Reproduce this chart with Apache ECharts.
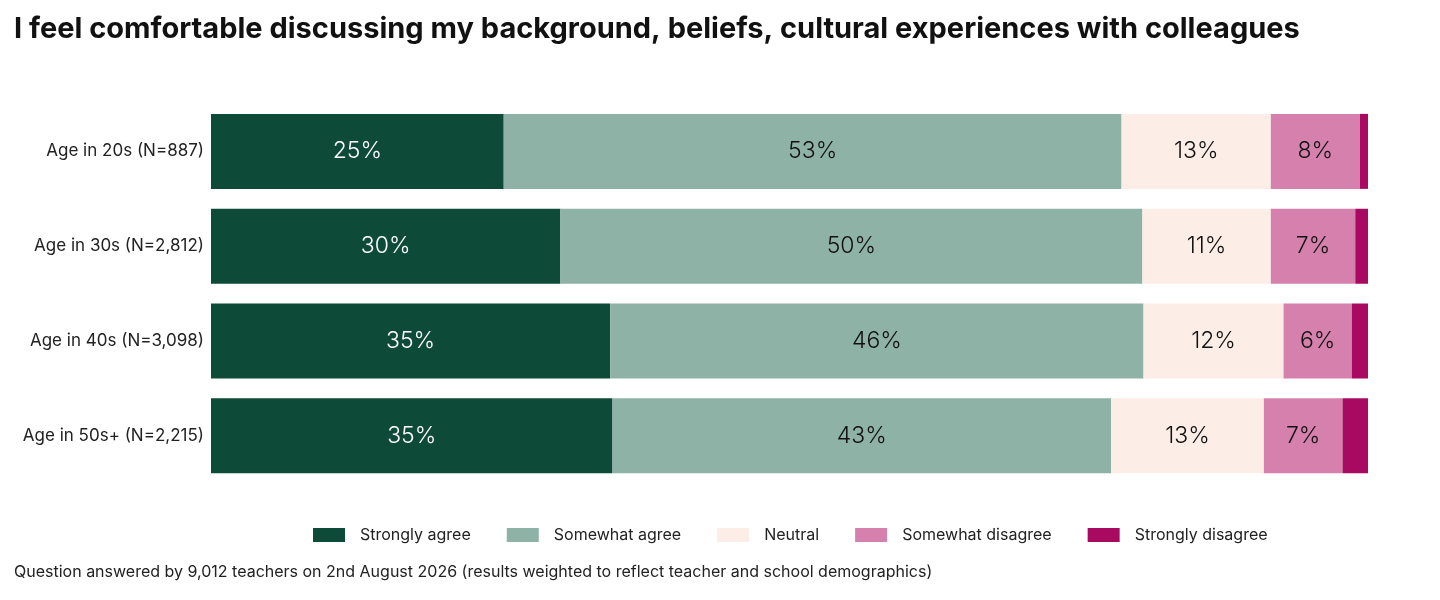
<!DOCTYPE html>
<html>
<head>
<meta charset="utf-8">
<script src="https://cdn.jsdelivr.net/npm/echarts@6/dist/echarts.min.js"></script>
<style>
  html, body { margin: 0; padding: 0; background: #ffffff; }
  #chart { width: 1440px; height: 600px; }
</style>
</head>
<body>
<div id="chart"></div>
<script>
// age groups, top to bottom
var groups = ['Age in 20s (N=887)', 'Age in 30s (N=2,812)', 'Age in 40s (N=3,098)', 'Age in 50s+ (N=2,215)']

// answer shares per group (%)
var stronglyAgree = [25.3, 30.2, 34.5, 34.7]
var somewhatAgree = [53.4, 50.3, 46.1, 43.1]
var neutral = [12.9, 11.1, 12.1, 13.2]
var somewhatDisagree = [7.7, 7.3, 5.9, 6.8]
var stronglyDisagree = [0.7, 1.2, 1.5, 2.2]

var answers = ['Strongly agree', 'Somewhat agree', 'Neutral', 'Somewhat disagree', 'Strongly disagree']
var colors = ['#0d4a37', '#8fb2a7', '#fcede6', '#d580ad', '#a80a61']
var textColors = ['#ffffff', '#111111', '#111111', '#111111', '#111111']
var values = [stronglyAgree, somewhatAgree, neutral, somewhatDisagree, stronglyDisagree]

var font = 'Inter, "Noto Sans", sans-serif'

var series = answers.map(function (name, i) {
  return {
    name: name,
    type: 'bar',
    stack: 'total',
    barWidth: 75,
    data: values[i],
    itemStyle: { color: colors[i] },
    label: {
      show: i < 4,
      position: 'inside',
      color: textColors[i],
      fontFamily: font,
      fontSize: 23,
      fontWeight: 300,
      formatter: function (p) { return Math.round(p.value) + '%' }
    },
    emphasis: { disabled: true }
  }
})

var chart = echarts.init(document.getElementById('chart'))
chart.setOption({
  backgroundColor: '#ffffff',
  animation: false,
  title: {
    text: 'I feel comfortable discussing my background, beliefs, cultural experiences with colleagues',
    left: 9,
    top: 10,
    textStyle: { fontFamily: font, fontSize: 29, fontWeight: 'bold', color: '#111111' }
  },
  legend: {
    data: answers,
    top: 522,
    left: 308,
    itemWidth: 32,
    itemHeight: 14,
    itemGap: 36,
    icon: 'rect',
    textStyle: { fontFamily: font, fontSize: 16, color: '#222222', padding: [0, 0, 0, 10] }
  },
  graphic: [{
    type: 'text',
    left: 14,
    top: 564,
    style: {
      text: 'Question answered by 9,012 teachers on 2nd August 2026 (results weighted to reflect teacher and school demographics)',
      fontFamily: font,
      fontSize: 16,
      fill: '#222222'
    }
  }],
  grid: { left: 211, right: 72, top: 104, bottom: 117 },
  xAxis: {
    type: 'value',
    min: 0,
    max: 100,
    show: false
  },
  yAxis: {
    type: 'category',
    data: groups,
    inverse: true,
    axisLine: { show: false },
    axisTick: { show: false },
    axisLabel: { fontFamily: font, fontSize: 17, color: '#222222', margin: 7 }
  },
  series: series
})
</script>
</body>
</html>
